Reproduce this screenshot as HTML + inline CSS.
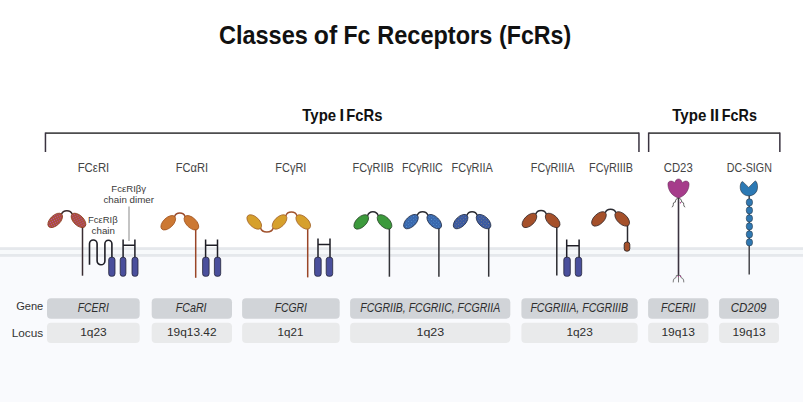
<!DOCTYPE html>
<html><head><meta charset="utf-8"><title>Classes of Fc Receptors</title><style>
html,body{margin:0;padding:0;width:803px;height:402px;overflow:hidden;background:#fff}
svg{display:block}
text{font-family:"Liberation Sans",sans-serif}
</style></head><body>
<svg width="803" height="402" viewBox="0 0 803 402">
<rect x="0" y="0" width="803" height="402" fill="#ffffff"/>
<rect x="0" y="250" width="803" height="152" fill="#f9fafd"/>
<rect x="0" y="247.2" width="803" height="2.8" fill="#e5e8ec"/>
<rect x="0" y="250" width="803" height="4" fill="#f7f9fb"/>
<rect x="0" y="254" width="803" height="2.8" fill="#e5e8ec"/>
<text x="218.96" y="43.80" font-size="26" font-weight="bold" font-style="normal" fill="#111" textLength="88.90" lengthAdjust="spacingAndGlyphs" >Classes</text>
<text x="313.81" y="43.80" font-size="26" font-weight="bold" font-style="normal" fill="#111" textLength="23.36" lengthAdjust="spacingAndGlyphs" >of</text>
<text x="343.44" y="43.80" font-size="26" font-weight="bold" font-style="normal" fill="#111" textLength="26.94" lengthAdjust="spacingAndGlyphs" >Fc</text>
<text x="377.31" y="43.80" font-size="26" font-weight="bold" font-style="normal" fill="#111" textLength="114.94" lengthAdjust="spacingAndGlyphs" >Receptors</text>
<text x="499.04" y="43.80" font-size="26" font-weight="bold" font-style="normal" fill="#111" textLength="72.15" lengthAdjust="spacingAndGlyphs" >(FcRs)</text>
<text x="302.35" y="120.70" font-size="16.5" font-weight="bold" font-style="normal" fill="#111" textLength="33.77" lengthAdjust="spacingAndGlyphs" >Type</text>
<text x="339.61" y="120.70" font-size="16.5" font-weight="bold" font-style="normal" fill="#111" >I</text>
<text x="346.30" y="120.70" font-size="16.5" font-weight="bold" font-style="normal" fill="#111" textLength="36.20" lengthAdjust="spacingAndGlyphs" >FcRs</text>
<text x="672.25" y="120.70" font-size="16.5" font-weight="bold" font-style="normal" fill="#111" textLength="34.08" lengthAdjust="spacingAndGlyphs" >Type</text>
<text x="710.02" y="120.70" font-size="16.5" font-weight="bold" font-style="normal" fill="#111" >II</text>
<text x="721.83" y="120.70" font-size="16.5" font-weight="bold" font-style="normal" fill="#111" textLength="35.15" lengthAdjust="spacingAndGlyphs" >FcRs</text>
<path d="M45.45 133.1 H638.95 M648.65 133.1 H779.85" fill="none" stroke="#4d4d4f" stroke-width="1.7"/>
<path d="M45.45 132.4 V152 M638.95 132.4 V152 M648.65 132.4 V152 M779.85 132.4 V152" fill="none" stroke="#3a3340" stroke-width="1.5"/>
<text x="77.66" y="171.60" font-size="12" font-weight="normal" font-style="normal" fill="#444444" textLength="31.61" lengthAdjust="spacingAndGlyphs" >FCεRI</text>
<text x="175.68" y="171.60" font-size="12" font-weight="normal" font-style="normal" fill="#444444" textLength="32.36" lengthAdjust="spacingAndGlyphs" >FCαRI</text>
<text x="275.29" y="171.60" font-size="12" font-weight="normal" font-style="normal" fill="#444444" textLength="31.13" lengthAdjust="spacingAndGlyphs" >FCγRI</text>
<text x="352.50" y="171.60" font-size="12" font-weight="normal" font-style="normal" fill="#444444" textLength="41.38" lengthAdjust="spacingAndGlyphs" >FCγRIIB</text>
<text x="401.92" y="171.60" font-size="12" font-weight="normal" font-style="normal" fill="#444444" textLength="40.89" lengthAdjust="spacingAndGlyphs" >FCγRIIC</text>
<text x="451.60" y="171.60" font-size="12" font-weight="normal" font-style="normal" fill="#444444" textLength="41.23" lengthAdjust="spacingAndGlyphs" >FCγRIIA</text>
<text x="530.81" y="171.60" font-size="12" font-weight="normal" font-style="normal" fill="#444444" textLength="43.70" lengthAdjust="spacingAndGlyphs" >FCγRIIIA</text>
<text x="589.11" y="171.60" font-size="12" font-weight="normal" font-style="normal" fill="#444444" textLength="43.94" lengthAdjust="spacingAndGlyphs" >FCγRIIIB</text>
<text x="663.73" y="171.60" font-size="12" font-weight="normal" font-style="normal" fill="#444444" textLength="28.97" lengthAdjust="spacingAndGlyphs" >CD23</text>
<text x="726.72" y="171.60" font-size="12" font-weight="normal" font-style="normal" fill="#444444" textLength="45.16" lengthAdjust="spacingAndGlyphs" >DC-SIGN</text>
<text x="111.31" y="191.60" font-size="9.9" font-weight="normal" font-style="normal" fill="#3a3a3a" textLength="34.81" lengthAdjust="spacingAndGlyphs" >FcεRIβγ</text>
<text x="103.48" y="202.80" font-size="9.9" font-weight="normal" font-style="normal" fill="#3a3a3a" textLength="50.58" lengthAdjust="spacingAndGlyphs" >chain dimer</text>
<text x="87.92" y="223.00" font-size="9.9" font-weight="normal" font-style="normal" fill="#3a3a3a" textLength="29.76" lengthAdjust="spacingAndGlyphs" >FcεRIβ</text>
<text x="91.59" y="233.90" font-size="9.9" font-weight="normal" font-style="normal" fill="#3a3a3a" textLength="23.33" lengthAdjust="spacingAndGlyphs" >chain</text>
<line x1="129.0" y1="206.4" x2="129.0" y2="241" stroke="#b0b0b0" stroke-width="1.5"/>
<defs><pattern id="pE" width="2.2" height="2.2" patternUnits="userSpaceOnUse" patternTransform="rotate(20)"><rect width="2.2" height="2.2" fill="#9c4620"/><circle cx="1.1" cy="1.1" r="0.68" fill="#bc4cb4"/><circle cx="0" cy="0" r="0.45" fill="#de8a30"/><circle cx="2.2" cy="0" r="0.45" fill="#de8a30"/><circle cx="0" cy="2.2" r="0.45" fill="#de8a30"/><circle cx="2.2" cy="2.2" r="0.45" fill="#de8a30"/></pattern><pattern id="pC" width="2.4" height="2.4" patternUnits="userSpaceOnUse"><rect width="2.4" height="2.4" fill="#3a68ad"/><circle cx="1.2" cy="1.2" r="0.45" fill="#5a9ad6"/></pattern><pattern id="pA" width="2.4" height="2.4" patternUnits="userSpaceOnUse"><rect width="2.4" height="2.4" fill="#3b5aa2"/><circle cx="1.2" cy="1.2" r="0.45" fill="#8a8a78"/></pattern></defs>
<path d="M61.48 214.34 C63.08 209.62 70.62 209.62 72.22 214.34" fill="none" stroke="#3a2a2a" stroke-width="1.5"/>
<line x1="82.5" y1="220.4" x2="82.5" y2="275.7" stroke="#3a2d33" stroke-width="1.5"/>
<ellipse cx="55.20" cy="220.40" rx="9.0" ry="5.0" transform="rotate(-44 55.20 220.40)" fill="url(#pE)" stroke="#8a3a1a" stroke-width="0.8"/>
<ellipse cx="78.50" cy="220.40" rx="9.0" ry="5.0" transform="rotate(44 78.50 220.40)" fill="url(#pE)" stroke="#8a3a1a" stroke-width="0.8"/>
<path d="M89.5 264.7 V243.8 A3.8 3.8 0 0 1 97.1 243.8 V260.9 A3.9 3.9 0 0 0 104.9 260.9 V243.8 A3.5 3.5 0 0 1 111.9 243.8 V258" fill="none" stroke="#1e1e26" stroke-width="1.6"/>
<path d="M123.1 239.5 V258 M134.9 239.5 V258 M123.1 245.3 H134.9" fill="none" stroke="#1e1e26" stroke-width="1.5"/>
<rect x="108.70" y="257.2" width="6.30" height="19.10" rx="2.6" fill="#4a4f9c" stroke="#24243a" stroke-width="0.8"/>
<rect x="120.20" y="257.2" width="5.70" height="19.10" rx="2.6" fill="#4a4f9c" stroke="#24243a" stroke-width="0.8"/>
<rect x="132.00" y="257.2" width="6.00" height="19.10" rx="2.6" fill="#4a4f9c" stroke="#24243a" stroke-width="0.8"/>
<path d="M174.53 216.69 C176.13 211.90 183.52 211.90 185.12 216.69" fill="none" stroke="#9a4a2a" stroke-width="1.5"/>
<line x1="195.7" y1="222.75" x2="195.7" y2="277.8" stroke="#9a4628" stroke-width="1.5"/>
<ellipse cx="168.25" cy="222.75" rx="9.0" ry="5.0" transform="rotate(-44 168.25 222.75)" fill="#cc7833" stroke="#a0501a" stroke-width="0.8"/>
<ellipse cx="191.40" cy="222.75" rx="9.0" ry="5.0" transform="rotate(44 191.40 222.75)" fill="#cc7833" stroke="#a0501a" stroke-width="0.8"/>
<path d="M205.6 239.5 V258 M217.5 239.5 V258 M205.6 245.3 H217.5" fill="none" stroke="#1e1e26" stroke-width="1.5"/>
<rect x="202.60" y="257.2" width="6.50" height="19.10" rx="2.6" fill="#4a4f9c" stroke="#24243a" stroke-width="0.8"/>
<rect x="214.40" y="257.2" width="6.30" height="19.10" rx="2.6" fill="#4a4f9c" stroke="#24243a" stroke-width="0.8"/>
<path d="M260.53 228.01 C262.13 233.33 271.67 233.33 273.27 228.01" fill="none" stroke="#a0522d" stroke-width="1.5"/>
<path d="M285.83 215.89 C287.43 210.84 295.37 210.84 296.97 215.89" fill="none" stroke="#a0522d" stroke-width="1.5"/>
<line x1="307.7" y1="222" x2="307.7" y2="277.4" stroke="#9a4628" stroke-width="1.5"/>
<ellipse cx="254.25" cy="221.95" rx="9.0" ry="5.0" transform="rotate(44 254.25 221.95)" fill="#d6a02c" stroke="#a4652a" stroke-width="0.8"/>
<ellipse cx="279.55" cy="221.95" rx="9.0" ry="5.0" transform="rotate(-44 279.55 221.95)" fill="#d6a02c" stroke="#a4652a" stroke-width="0.8"/>
<ellipse cx="303.25" cy="221.95" rx="9.0" ry="5.0" transform="rotate(44 303.25 221.95)" fill="#d6a02c" stroke="#a4652a" stroke-width="0.8"/>
<path d="M318 238.5 V258 M330 238.5 V258 M318 244.6 H330" fill="none" stroke="#1e1e26" stroke-width="1.5"/>
<rect x="314.60" y="257.2" width="6.60" height="19.10" rx="2.6" fill="#4a4f9c" stroke="#24243a" stroke-width="0.8"/>
<rect x="326.20" y="257.2" width="6.50" height="19.10" rx="2.6" fill="#4a4f9c" stroke="#24243a" stroke-width="0.8"/>
<path d="M367.53 215.84 C369.13 210.45 376.67 210.45 378.27 215.84" fill="none" stroke="#2a2a30" stroke-width="1.5"/>
<line x1="389.4" y1="221.9" x2="389.4" y2="276.7" stroke="#333338" stroke-width="1.5"/>
<ellipse cx="361.25" cy="221.90" rx="9.0" ry="5.0" transform="rotate(-44 361.25 221.90)" fill="#3c9a3c" stroke="#2a4a2a" stroke-width="0.8"/>
<ellipse cx="384.55" cy="221.90" rx="9.0" ry="5.0" transform="rotate(44 384.55 221.90)" fill="#3c9a3c" stroke="#2a4a2a" stroke-width="0.8"/>
<path d="M417.23 215.54 C418.83 210.55 426.37 210.55 427.97 215.54" fill="none" stroke="#2a2a30" stroke-width="1.5"/>
<line x1="438.9" y1="221.6" x2="438.9" y2="276.7" stroke="#333338" stroke-width="1.5"/>
<ellipse cx="410.95" cy="221.60" rx="9.0" ry="5.0" transform="rotate(-44 410.95 221.60)" fill="url(#pC)" stroke="#25304a" stroke-width="0.8"/>
<ellipse cx="434.25" cy="221.60" rx="9.0" ry="5.0" transform="rotate(44 434.25 221.60)" fill="url(#pC)" stroke="#25304a" stroke-width="0.8"/>
<path d="M466.88 215.54 C468.48 210.55 475.67 210.55 477.27 215.54" fill="none" stroke="#2a2a30" stroke-width="1.5"/>
<line x1="488.7" y1="221.6" x2="488.7" y2="276.7" stroke="#333338" stroke-width="1.5"/>
<ellipse cx="460.60" cy="221.60" rx="9.0" ry="5.0" transform="rotate(-44 460.60 221.60)" fill="url(#pA)" stroke="#25304a" stroke-width="0.8"/>
<ellipse cx="483.55" cy="221.60" rx="9.0" ry="5.0" transform="rotate(44 483.55 221.60)" fill="url(#pA)" stroke="#25304a" stroke-width="0.8"/>
<path d="M535.73 214.34 C537.33 209.35 544.77 209.35 546.37 214.34" fill="none" stroke="#2a2a30" stroke-width="1.5"/>
<line x1="556.8" y1="220.4" x2="556.8" y2="275.6" stroke="#2a2a30" stroke-width="1.5"/>
<ellipse cx="529.45" cy="220.40" rx="9.0" ry="5.0" transform="rotate(-44 529.45 220.40)" fill="#a5502a" stroke="#3a2a2a" stroke-width="0.8"/>
<ellipse cx="552.65" cy="220.40" rx="9.0" ry="5.0" transform="rotate(44 552.65 220.40)" fill="#a5502a" stroke="#3a2a2a" stroke-width="0.8"/>
<path d="M566.7 239.4 V258 M579.1 239.4 V258 M566.7 245.8 H579.1" fill="none" stroke="#1e1e26" stroke-width="1.5"/>
<rect x="563.80" y="257.2" width="6.50" height="19.10" rx="2.6" fill="#4a4f9c" stroke="#24243a" stroke-width="0.8"/>
<rect x="575.30" y="257.2" width="6.40" height="19.10" rx="2.6" fill="#4a4f9c" stroke="#24243a" stroke-width="0.8"/>
<path d="M605.23 212.84 C606.83 208.12 614.32 208.12 615.92 212.84" fill="none" stroke="#2a2a30" stroke-width="1.5"/>
<line x1="627.5" y1="218.9" x2="627.5" y2="243" stroke="#2a2a30" stroke-width="1.5"/>
<ellipse cx="598.95" cy="218.90" rx="9.0" ry="5.0" transform="rotate(-44 598.95 218.90)" fill="#a5502a" stroke="#3a2a2a" stroke-width="0.8"/>
<ellipse cx="622.20" cy="218.90" rx="9.0" ry="5.0" transform="rotate(44 622.20 218.90)" fill="#a5502a" stroke="#3a2a2a" stroke-width="0.8"/>
<rect x="624.2" y="242.0" width="5.6" height="9.2" rx="2.5" fill="#a5502a" stroke="#2e2626" stroke-width="0.9"/>
<line x1="678.5" y1="196" x2="678.5" y2="276" stroke="#3b3340" stroke-width="1.6"/>
<path d="M678.5 275.3 L676.4 275.5 L676.0 277.6 Q674.0 278.0 673.4 280.0 L673.2 282.4 M678.5 275.3 V282.4 M678.5 275.3 L680.6 275.5 L681.0 277.6 Q683.0 278.0 683.6 280.0 L683.8 282.4" fill="none" stroke="#5a5a5a" stroke-width="0.8"/>
<path d="M677.80 198.30 Q675.30 199.20 675.50 200.90 Q675.80 202.60 674.20 202.40 Q673.10 202.40 673.30 204.60 Q673.30 206.80 671.80 207.10 M679.20 198.30 Q681.70 199.20 681.50 200.90 Q681.20 202.60 682.80 202.40 Q683.90 202.40 683.70 204.60 Q683.70 206.80 685.20 207.10" fill="none" stroke="#464646" stroke-width="0.85"/>
<circle cx="680.4" cy="202.8" r="0.7" fill="#b03a90"/>
<circle cx="678.3" cy="276.4" r="0.6" fill="#b03a90"/><circle cx="680.5" cy="276.4" r="0.6" fill="#b03a90"/>
<path d="M678.5 197.9 C 672.5 196.5, 667.9 190.5, 667.9 184.2 C 667.9 180.6, 672.3 180.0, 674.6 182.8 C 675.6 180.0, 677.0 179.0, 678.5 179.0 C 680.0 179.0, 681.4 180.0, 682.4 182.8 C 684.7 180.0, 689.1 180.6, 689.1 184.2 C 689.1 190.5, 684.5 196.5, 678.5 197.9 Z" fill="#a63c8b" stroke="#5a2a50" stroke-width="0.5"/>
<line x1="749.2" y1="195" x2="749.2" y2="274.4" stroke="#3a3a40" stroke-width="1.4"/>
<rect x="746.3" y="198.80" width="6.2" height="7.1" rx="3.0" fill="#2f78b2" stroke="#2a3a4a" stroke-width="0.6"/>
<rect x="746.3" y="206.80" width="6.2" height="7.1" rx="3.0" fill="#2f78b2" stroke="#2a3a4a" stroke-width="0.6"/>
<rect x="746.3" y="214.80" width="6.2" height="7.1" rx="3.0" fill="#2f78b2" stroke="#2a3a4a" stroke-width="0.6"/>
<rect x="746.3" y="222.80" width="6.2" height="7.1" rx="3.0" fill="#2f78b2" stroke="#2a3a4a" stroke-width="0.6"/>
<rect x="746.3" y="230.80" width="6.2" height="7.1" rx="3.0" fill="#2f78b2" stroke="#2a3a4a" stroke-width="0.6"/>
<rect x="746.3" y="238.80" width="6.2" height="7.1" rx="3.0" fill="#2f78b2" stroke="#2a3a4a" stroke-width="0.6"/>
<path d="M741.6 182.0 Q742.2 181.2 743.0 181.9 L748.7 187.4 L754.6 181.4 Q755.5 180.6 756.2 181.6 C757.6 183.6, 758.0 187.5, 757.0 190.4 C755.8 193.6, 752.6 195.9, 748.9 195.9 C745.2 195.9, 742.0 193.8, 740.8 190.6 C739.8 187.8, 740.0 184.2, 741.6 182.0 Z" fill="#2c79b4" stroke="#2a3440" stroke-width="0.6"/>
<text x="16.15" y="310.40" font-size="11.5" font-weight="normal" font-style="normal" fill="#333" textLength="27.14" lengthAdjust="spacingAndGlyphs" >Gene</text>
<text x="11.73" y="336.60" font-size="11.5" font-weight="normal" font-style="normal" fill="#333" textLength="31.50" lengthAdjust="spacingAndGlyphs" >Locus</text>
<rect x="47" y="298.2" width="92.70" height="20.5" rx="4" fill="#d1d4d8"/>
<rect x="47" y="322.7" width="92.70" height="20.2" rx="4" fill="#e9eaeb"/>
<text x="77.69" y="312.00" font-size="12.2" font-weight="normal" font-style="italic" fill="#2e2e2e" textLength="31.12" lengthAdjust="spacingAndGlyphs" >FCERI</text>
<text x="80.21" y="335.50" font-size="11" font-weight="normal" font-style="normal" fill="#2e2e2e" textLength="26.53" lengthAdjust="spacingAndGlyphs" >1q23</text>
<rect x="151.7" y="298.2" width="80.30" height="20.5" rx="4" fill="#d1d4d8"/>
<rect x="151.7" y="322.7" width="80.30" height="20.2" rx="4" fill="#e9eaeb"/>
<text x="175.68" y="312.00" font-size="12.2" font-weight="normal" font-style="italic" fill="#2e2e2e" textLength="30.92" lengthAdjust="spacingAndGlyphs" >FCaRI</text>
<text x="166.91" y="335.50" font-size="11" font-weight="normal" font-style="normal" fill="#2e2e2e" textLength="49.70" lengthAdjust="spacingAndGlyphs" >19q13.42</text>
<rect x="242.1" y="298.2" width="97.60" height="20.5" rx="4" fill="#d1d4d8"/>
<rect x="242.1" y="322.7" width="97.60" height="20.2" rx="4" fill="#e9eaeb"/>
<text x="274.69" y="312.00" font-size="12.2" font-weight="normal" font-style="italic" fill="#2e2e2e" textLength="32.33" lengthAdjust="spacingAndGlyphs" >FCGRI</text>
<text x="277.63" y="335.50" font-size="11" font-weight="normal" font-style="normal" fill="#2e2e2e" textLength="25.74" lengthAdjust="spacingAndGlyphs" >1q21</text>
<rect x="350.1" y="298.2" width="160.20" height="20.5" rx="4" fill="#d1d4d8"/>
<rect x="350.1" y="322.7" width="160.20" height="20.2" rx="4" fill="#e9eaeb"/>
<text x="360.29" y="312.00" font-size="12.2" font-weight="normal" font-style="italic" fill="#2e2e2e" textLength="139.88" lengthAdjust="spacingAndGlyphs" >FCGRIIB, FCGRIIC, FCGRIIA</text>
<text x="416.47" y="335.50" font-size="11" font-weight="normal" font-style="normal" fill="#2e2e2e" textLength="27.69" lengthAdjust="spacingAndGlyphs" >1q23</text>
<rect x="521.4" y="298.2" width="116.30" height="20.5" rx="4" fill="#d1d4d8"/>
<rect x="521.4" y="322.7" width="116.30" height="20.2" rx="4" fill="#e9eaeb"/>
<text x="530.38" y="312.00" font-size="12.2" font-weight="normal" font-style="italic" fill="#2e2e2e" textLength="97.69" lengthAdjust="spacingAndGlyphs" >FCGRIIIA, FCGRIIIB</text>
<text x="566.41" y="335.50" font-size="11" font-weight="normal" font-style="normal" fill="#2e2e2e" textLength="26.42" lengthAdjust="spacingAndGlyphs" >1q23</text>
<rect x="648.1" y="298.2" width="60.30" height="20.5" rx="4" fill="#d1d4d8"/>
<rect x="648.1" y="322.7" width="60.30" height="20.2" rx="4" fill="#e9eaeb"/>
<text x="660.99" y="312.00" font-size="12.2" font-weight="normal" font-style="italic" fill="#2e2e2e" textLength="34.32" lengthAdjust="spacingAndGlyphs" >FCERII</text>
<text x="661.40" y="335.50" font-size="11" font-weight="normal" font-style="normal" fill="#2e2e2e" textLength="33.53" lengthAdjust="spacingAndGlyphs" >19q13</text>
<rect x="719.1" y="298.2" width="59.90" height="20.5" rx="4" fill="#d1d4d8"/>
<rect x="719.1" y="322.7" width="59.90" height="20.2" rx="4" fill="#e9eaeb"/>
<text x="730.67" y="312.00" font-size="12.2" font-weight="normal" font-style="italic" fill="#2e2e2e" textLength="35.77" lengthAdjust="spacingAndGlyphs" >CD209</text>
<text x="732.40" y="335.50" font-size="11" font-weight="normal" font-style="normal" fill="#2e2e2e" textLength="33.32" lengthAdjust="spacingAndGlyphs" >19q13</text>
</svg>
</body></html>
